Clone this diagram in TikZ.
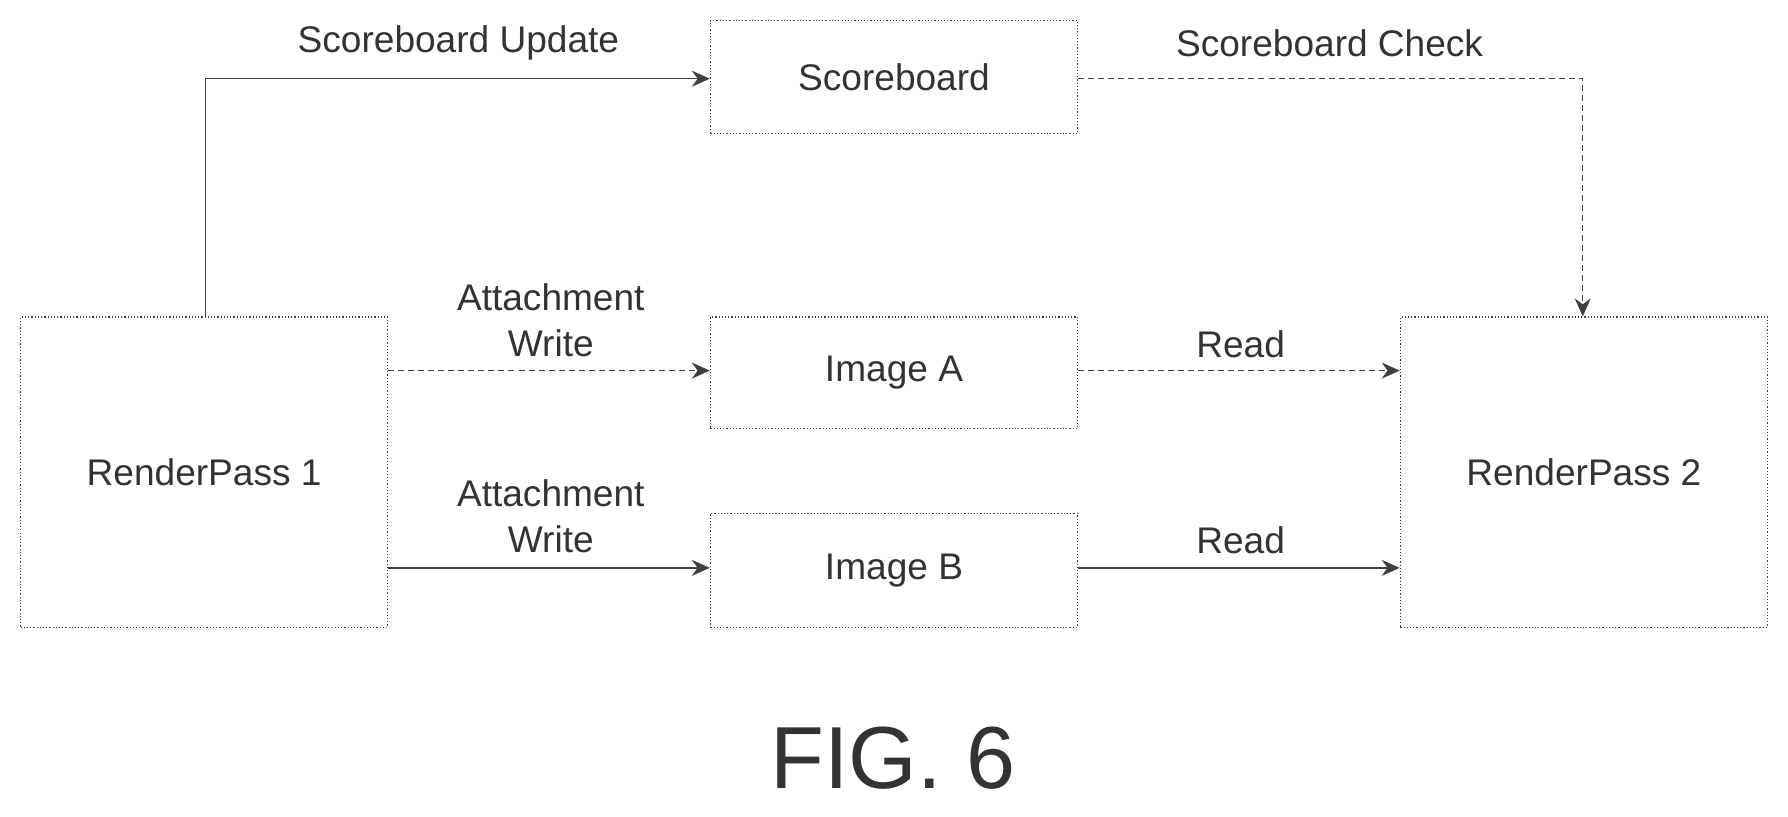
\documentclass[tikz,border=0pt]{standalone}
\usepackage{fontspec}
\setmainfont{Liberation Sans}
\usetikzlibrary{arrows.meta}
\begin{document}
\begin{tikzpicture}[x=0.02cm,y=-0.02cm,
  box/.style={draw=black!75,densely dotted,line width=0.6pt,inner sep=0pt},
  lbl/.style={font=\fontsize{18.5}{23}\selectfont,text=black!80},
  conn/.style={draw=black!75,line width=0.7pt,-{Stealth[length=9pt,width=8pt]}}]
\useasboundingbox (0,0) rectangle (1568,716);
\node[box,minimum width=6.44cm,minimum height=5.44cm,lbl] (rp1) at (179,414) {RenderPass 1};
\node[box,minimum width=6.44cm,minimum height=1.98cm,lbl] (sb) at (784,67.5) {Scoreboard};
\node[box,minimum width=6.44cm,minimum height=1.96cm,lbl] (ia) at (784,327) {Image A};
\node[box,minimum width=6.44cm,minimum height=2.0cm,lbl] (ib) at (784,500) {Image B};
\node[box,minimum width=6.44cm,minimum height=5.44cm,lbl] (rp2) at (1389,414) {RenderPass 2};
\coordinate (c1) at (180,69);
\coordinate (c2) at (1388,69);
\draw[conn] (rp1.north -| c1) -- (c1) -- (sb.west |- c1);
\draw[conn,densely dashed] (sb.east |- c2) -- (c2) -- (rp2.north -| c2);
\draw[conn,densely dashed] (rp1.east |- 0,325) -- (ia.west |- 0,325);
\draw[conn] (rp1.east |- 0,498) -- (ib.west |- 0,498);
\draw[conn,densely dashed] (ia.east |- 0,325) -- (rp2.west |- 0,325);
\draw[conn] (ib.east |- 0,498) -- (rp2.west |- 0,498);
\node[lbl] (l1) at (402,38) {Scoreboard Update};
\node[lbl] (l2) at (1166,38) {Scoreboard Check};
\node[lbl,align=center] (l3) at (483,281) {Attachment\\Write};
\node[lbl,align=center] (l4) at (483,453) {Attachment\\Write};
\node[lbl] (l5) at (1088,302) {Read};
\node[lbl] (l6) at (1088,474) {Read};
\node[font=\fontsize{44}{50}\selectfont,text=black!80] (fig) at (783,665) {FIG. 6};
\end{tikzpicture}
\end{document}
